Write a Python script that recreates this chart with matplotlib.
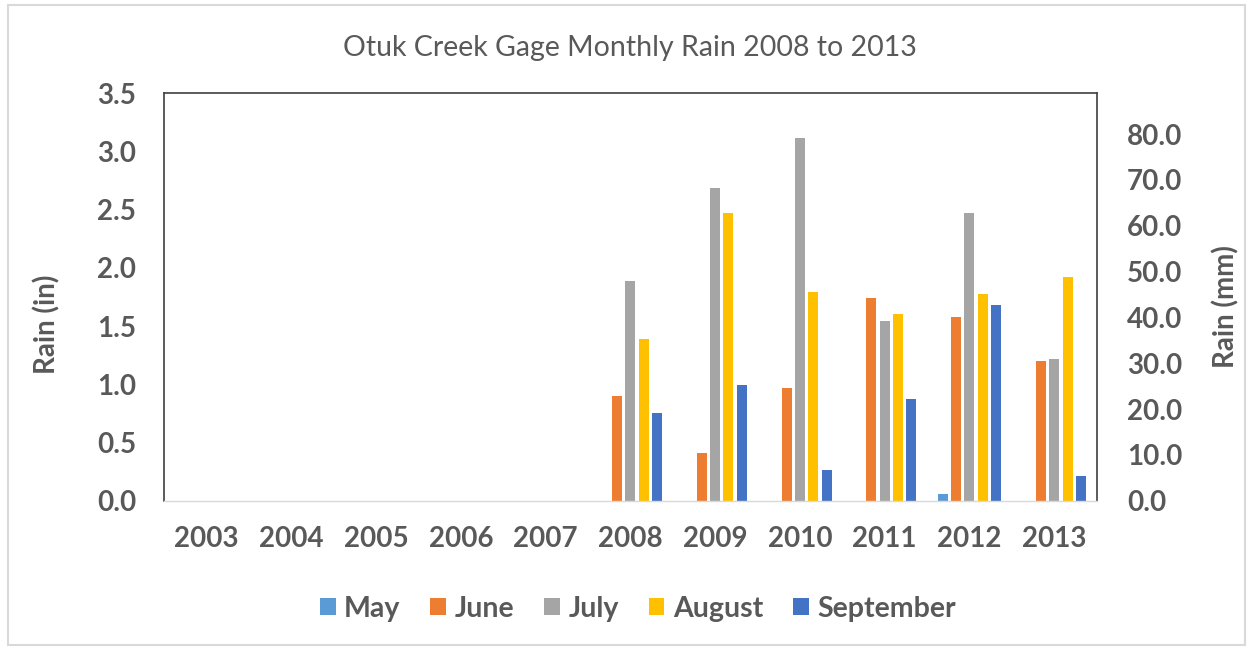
import numpy as np
import matplotlib.pyplot as plt
from matplotlib.patches import Rectangle
from matplotlib.ticker import FormatStrFormatter

# Data (inches), None = no record
years = ["2003", "2004", "2005", "2006", "2007", "2008", "2009", "2010", "2011", "2012", "2013"]
may = [None, None, None, None, None, None, None, None, None, 0.06, None]
june = [None, None, None, None, None, 0.90, 0.41, 0.97, 1.74, 1.58, 1.20]
july = [None, None, None, None, None, 1.89, 2.69, 3.12, 1.54, 2.47, 1.22]
august = [None, None, None, None, None, 1.39, 2.47, 1.79, 1.60, 1.78, 1.92]
september = [None, None, None, None, None, 0.75, 0.99, 0.26, 0.87, 1.68, 0.21]

months = ["May", "June", "July", "August", "September"]
colors = ["#5B9BD5", "#ED7D31", "#A5A5A5", "#FFC000", "#4472C4"]

TXT = "#595959"
FONT = "Lato"
TICK_SIZE = 20

plt.rcParams["font.family"] = [FONT, "DejaVu Sans"]

fig = plt.figure(figsize=(12.53, 6.49), dpi=100)
fig.patches.append(Rectangle((0.006, 0.006), 0.988, 0.986, transform=fig.transFigure,
                             fill=False, edgecolor="#D9D9D9", linewidth=1.5))

ax = fig.add_axes([0.1309, 0.2285, 0.7443, 0.6277])

x = np.arange(len(years))
step = 0.157
width = 0.118
series = [may, june, july, august, september]
for j, (name, vals, c) in enumerate(zip(months, series, colors)):
    v = np.array([np.nan if a is None else a for a in vals], dtype=float)
    ax.bar(x + (j - 2) * step, v, width=width, color=c, label=name)

ax.set_xlim(-0.5, len(years) - 0.5)
ax.set_ylim(0, 3.5)
ax.set_yticks(np.arange(0, 3.51, 0.5))
ax.yaxis.set_major_formatter(FormatStrFormatter("%.1f"))
ax.set_xticks(x)
ax.set_xticklabels(years)

for s in ["top", "left", "right"]:
    ax.spines[s].set_color("#404040")
    ax.spines[s].set_linewidth(1.2)
ax.spines["bottom"].set_color("#D9D9D9")
ax.spines["bottom"].set_linewidth(1.0)
ax.tick_params(length=0, labelsize=TICK_SIZE, labelcolor=TXT)
ax.tick_params(axis="y", pad=20)
ax.tick_params(axis="x", pad=18)
for lab in ax.get_xticklabels() + ax.get_yticklabels():
    lab.set_fontweight("bold")

ax2 = ax.twinx()
ax2.set_ylim(0, 3.5 * 25.4)
ax2.set_yticks(np.arange(0, 81, 10))
ax2.yaxis.set_major_formatter(FormatStrFormatter("%.1f"))
ax2.tick_params(length=0, labelsize=TICK_SIZE, labelcolor=TXT, pad=22)
for lab in ax2.get_yticklabels():
    lab.set_fontweight("bold")
for s in ax2.spines.values():
    s.set_visible(False)

fig.text(0.503, 0.926, "Otuk Creek Gage Monthly Rain 2008 to 2013", ha="center", va="center",
         fontsize=20.5, color=TXT)
fig.text(0.0375, 0.5, "Rain (in)", rotation=90, ha="center", va="center",
         fontsize=20, color=TXT, fontweight="bold")
fig.text(0.978, 0.528, "Rain (mm)", rotation=90, ha="center", va="center",
         fontsize=20, color=TXT, fontweight="bold")

leg = fig.legend(loc="center", bbox_to_anchor=(0.509, 0.062), ncol=5, frameon=False,
                 handlelength=0.55, handleheight=0.55, handletextpad=0.3, columnspacing=1.05,
                 prop={"family": FONT, "weight": "bold", "size": 20.5})
for t in leg.get_texts():
    t.set_color(TXT)

fig.savefig("out.png", dpi=100)
